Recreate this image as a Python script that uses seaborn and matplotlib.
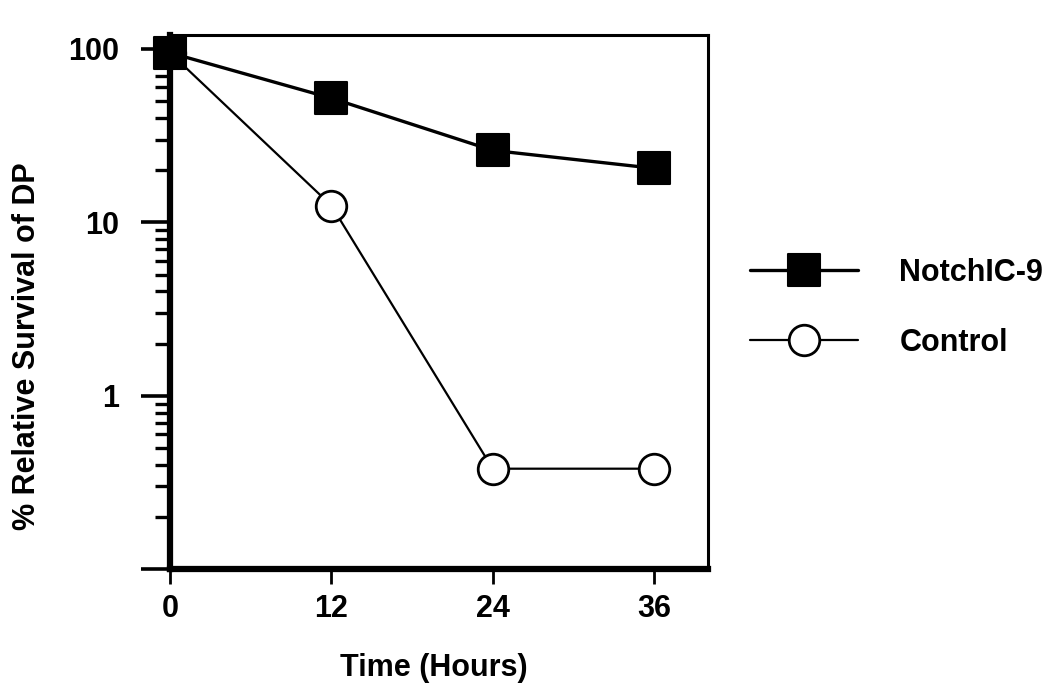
import matplotlib
matplotlib.use('Agg')
import matplotlib.pyplot as plt
import matplotlib.ticker as mticker
from matplotlib.markers import MarkerStyle
import seaborn as sns
import pandas as pd

# Time points (hours) and % relative survival of DP cells
hours = [0, 12, 24, 36]
notch_survival = [95, 52, 26, 20.5]
control_survival = [95, 12.5, 0.38, 0.38]
series_names = ["NotchIC-9", "Control"]

sns.set_theme(style="white")
plt.rcParams['font.family'] = ['Liberation Sans', 'DejaVu Sans']
plt.rcParams['font.weight'] = 'bold'
plt.rcParams['text.color'] = 'black'
plt.rcParams['axes.labelcolor'] = 'black'
plt.rcParams['xtick.color'] = 'black'
plt.rcParams['ytick.color'] = 'black'

df = pd.DataFrame({
    "hours": hours * 2,
    "survival": notch_survival + control_survival,
    "group": [series_names[0]] * 4 + [series_names[1]] * 4,
})

fig = plt.figure(figsize=(10.5, 6.9), dpi=100)
ax = fig.add_axes([0.162, 0.175, 0.512, 0.774])

# Open circles for Control first, filled squares for NotchIC-9 on top
sns.lineplot(data=df[df.group == series_names[1]], x="hours", y="survival",
             color="black", linewidth=1.6, marker="o", markersize=22,
             markerfacecolor="white", markeredgecolor="black", markeredgewidth=2,
             label=series_names[1], ax=ax, clip_on=False, zorder=3)
sns.lineplot(data=df[df.group == series_names[0]], x="hours", y="survival",
             color="black", linewidth=2.4,
             marker=MarkerStyle("s", joinstyle="round"), markersize=23,
             markerfacecolor="black", markeredgecolor="black", markeredgewidth=1.5,
             label=series_names[0], ax=ax, clip_on=False, zorder=4)

ax.set_yscale("log")
ax.set_ylim(0.1, 120)
ax.set_xlim(0, 40)

ax.set_xticks(hours)
ax.set_xticklabels([str(h) for h in hours])
ax.yaxis.set_major_locator(mticker.FixedLocator([0.1, 1, 10, 100]))
ax.yaxis.set_major_formatter(mticker.FixedFormatter(["", "1", "10", "100"]))
ax.yaxis.set_minor_locator(mticker.LogLocator(base=10, subs=range(2, 10)))
ax.yaxis.set_minor_formatter(mticker.NullFormatter())

for name, side in ax.spines.items():
    side.set_color("black")
    side.set_linewidth(4.5 if name in ("left", "bottom") else 2.2)

ax.tick_params(axis="y", which="major", direction="out", length=21, width=2.6,
               color="black", labelsize=22, pad=16, left=True)
ax.tick_params(axis="y", which="minor", direction="out", length=11, width=2.4,
               color="black", left=True)
ax.tick_params(axis="x", which="major", direction="out", length=11, width=2,
               color="black", labelsize=22, pad=7, bottom=True)

ax.set_xlabel("Time (Hours)", fontsize=22, fontweight="bold")
ax.set_ylabel("% Relative Survival of DP", fontsize=22, fontweight="bold")
ax.xaxis.set_label_coords(0.49, -0.157)
ax.yaxis.set_label_coords(-0.238, 0.418)

# Legend order: NotchIC-9 first, then Control
handles, labels = ax.get_legend_handles_labels()
order = [labels.index(n) for n in series_names]
ax.legend([handles[i] for i in order], [labels[i] for i in order],
          loc="center left", bbox_to_anchor=(0.714, 0.554),
          bbox_transform=fig.transFigure, frameon=False, fontsize=22,
          handlelength=3.55, labelspacing=1.3, handletextpad=1.35,
          borderpad=0, borderaxespad=0)

plt.savefig("out.png", dpi=100)
plt.close()
